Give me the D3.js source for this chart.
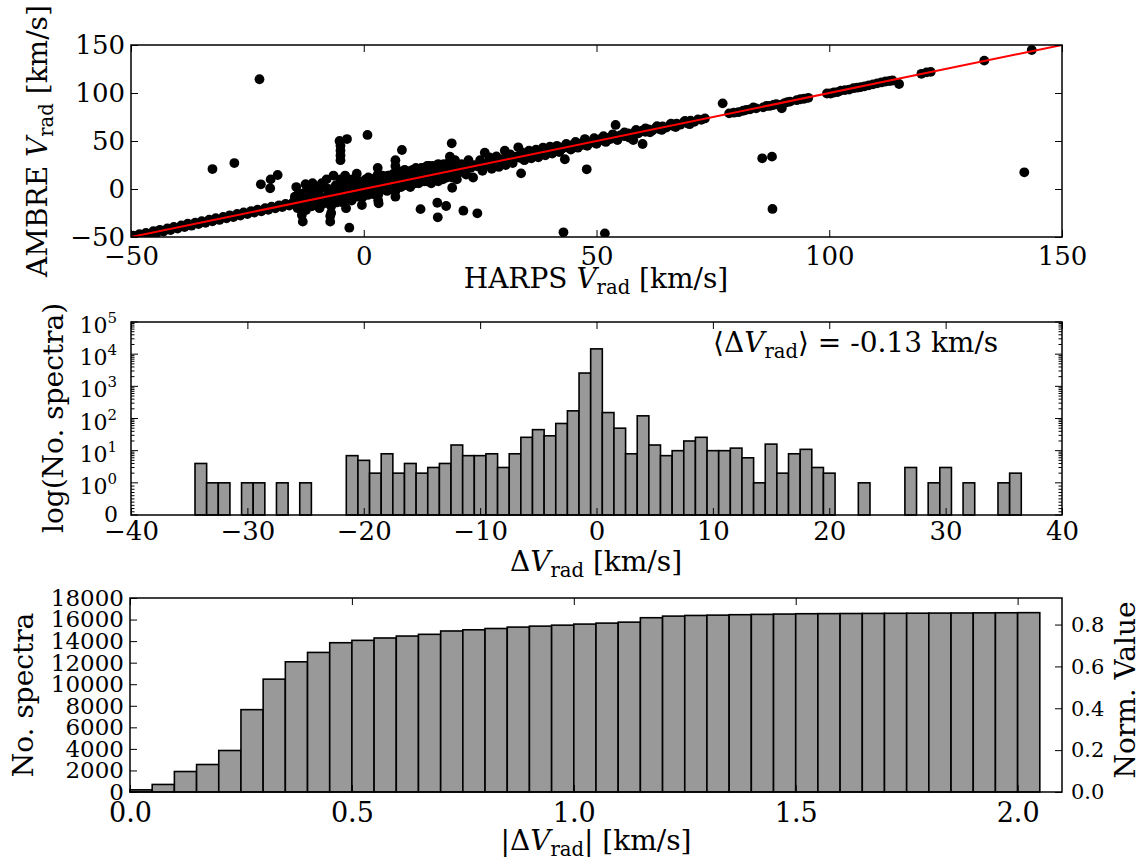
<!DOCTYPE html>
<html><head><meta charset="utf-8">
<script src="https://cdn.jsdelivr.net/npm/d3@7"></script>
<style>
body{margin:0;background:#fff}
svg{display:block}
text{font-family:"DejaVu Serif",serif;fill:#000}
</style>
</head><body>
<svg id="c" width="1148" height="862"></svg>
<script>
// ---------------- DATA ----------------
// Panel 1: HARPS vs AMBRE radial velocities (km/s), [HARPS, AMBRE]
const scatterBand = [
[-50,-50],[-49.5,-48.5],[-49,-50],[-48.2,-47],[-47.5,-48.8],[-46.8,-45.8],[-46,-47.2],[-45.2,-44],[-44.5,-45.8],[-43.8,-42.5],
[-43,-44.2],[-42.2,-41],[-41.5,-42.8],[-40.8,-39.6],[-40,-41.2],[-39.2,-38],[-38.5,-39.6],[-37.8,-36.2],[-37,-38.2],[-36.2,-35],
[-35.5,-36.6],[-34.8,-33.5],[-34,-35.2],[-33.2,-32],[-32.5,-33.6],[-31.8,-30.4],[-31,-32.2],[-30.2,-29],[-29.5,-30.6],[-28.8,-27.4],
[-28,-29.2],[-27.2,-26],[-26.5,-27.6],[-25.8,-24.4],[-25,-26.2],[-24.2,-23],[-23.5,-24.6],[-22.8,-21.5],[-22,-23.2],[-21.2,-20],
[-20.5,-21.6],[-19.8,-18.4],[-19,-20.2],[-18.2,-17],[-17.5,-18.8],[-16.8,-15.5],[-16,-17.2],[-15.2,-14],
[-14.5,-15.5],[-13.8,-12.5],[-13,-14],[-12.2,-11],[-11.5,-12.5],[-10.8,-9.5],[-10,-11],[-9.2,-8],[-8.5,-9.5],[-7.8,-6.5],
[-7,-8],[-6.2,-5],[-5.5,-6.5],[-4.8,-3.5],[-4,-5],[-3.2,-2],[-2.5,-3.5],[-1.8,-0.5],[-1,-2],[-0.3,1],
[0.5,-0.5],[1.2,2.5],[2,1],[2.8,4],[3.5,2.5],[4.2,5.5],[5,4],[5.8,7],[6.5,5.5],[7.2,8.5],
[8,7],[8.8,10],[9.5,8.5],[10.2,11.5],[11,10],[11.8,13],[12.5,11.5],[13.2,14.5],[14,13],[14.8,16],
[15.5,14.5],[16.2,17.5],[17,16],[17.8,19],[18.5,17.5],[19.2,20.5],[20,19],
[20.8,21.8],[21.5,20.5],[22.2,23.2],[23,22],[23.8,24.8],[24.5,23.5],[25.2,26.2],[26,25],[26.8,27.8],[27.5,26.5],
[28.2,29.2],[29,28],[29.8,30.8],[30.5,29.5],[31.2,32.2],[32,31],[32.8,33.8],[33.5,32.5],[34.2,35.2],[35,34],
[35.8,36.8],[36.5,35.5],[37.2,38.2],[38,37],[38.8,39.8],[39.5,38.5],[40.2,41.2],[41,40],[41.8,42.8],[42.5,41.5],
[43.2,44.2],[44,43],[44.8,45.8],[45.5,44.5],[46.2,47.2],[47,46],[47.8,48.8],[48.5,47.5],[49.2,50.2],[50,49],
[50.8,51.8],[51.5,50.5],[52.2,53.2],[53,52],[53.8,54.8],[54.5,53.5],[55.2,56.2],[56,55],[56.8,57.8],[57.5,56.5],
[58.2,59.2],[59,58],[59.8,60.8],[60.5,59.5],[61.2,62.2],[62,61],[62.8,63.8],[63.5,62.5],[64.2,65.2],[65,64],
[65.8,66.8],[66.5,65.5],[67.2,68.2],[68,67],[68.8,69.8],[69.5,68.5],[70.2,71.2],[71,70],[71.8,72.5],[72.5,72],[73.3,73.5],
[78.5,78.8],[79.5,79.5],[80.5,80],[81.5,81.5],[82.2,82.5],[83,83],[83.7,85],[84.3,84],[85.8,85],[86.5,86.5],
[87.2,86.5],[88,87.5],[88.6,88.5],[89.2,87.5],[89.8,84],[90.4,89.5],[91,90.5],[91.6,91],[93,92.5],[93.8,93.5],
[94.6,94],[95.5,95],[99.5,99.5],[100.3,99.5],[101,100.5],[101.8,101],[102.5,102.5],[103.4,103],[104.3,103.5],[105.2,105],
[106,105.5],[106.8,106.2],[107.6,107],[108.5,108],[109.4,109],[110.3,110],[111.2,111],[112.1,112],[113,112.5],[113.6,113],
[115,109.4],[119.8,120],[120.9,121.5],[121.8,122],[133.3,133.7],[143.5,144.8]
];
const scatterSpread = [
[-14.5,2],[-14,-5],[-13.5,-20],[-13.3,-27],[-13.1,-34],[-12.5,5],[-12,-18],[-11.5,-4],[-11,6],[-10.5,-14],
[-10,2],[-9.5,-20],[-9,6],[-8.5,-15],[-8,10],[-7.5,-12],[-7.2,-34],[-7,-25],[-7,-18],[-6.5,14],
[-6.5,-14],[-6,4],[-5.5,-10],[-5,10],[-4.5,-14],[-4,14],[-3.8,-20],[-3.5,6],[-3.1,-40.3],[-3,-10],
[-2.5,10],[-2,-8],[-1.5,16],[-1,-6],[-0.4,-16.7],[0,8],[0.5,-6],[1,12],[1.5,-4],[2,8],
[2.5,-6],[3,22],[3,15],[3.1,-6],[3.1,-12],[3.2,-15],[4,12],[5,-2],[5.5,14],[6,2],
[6.8,30],[6.8,24],[6.8,16],[6.8,-2],[6.8,-8],[7.5,14],[8,2],[8.5,16],[9,4],[9.5,18],
[10,2],[10.5,20],[11,6],[12,20],[12.2,-21],[12.5,8],[13,22],[13.5,8],[14,24],[14.5,6],
[15,22],[15.8,-14.3],[15.9,-29.5],[16,8],[16.5,24],[17,10],[17.7,-17.7],[18,26],[18.5,33.7],[19,1.3],
[19,12],[19.5,26],[20,10],
[-14.8,-8],[-14.2,-20],[-13.6,-6],[-12.8,-4],[-12.4,-22],[-11.8,-2],[-11.2,-18],[-10.6,-2],[-10.2,-16],[-9.6,0],
[-9,-15],[-8.6,2],[-8,-14],[-7.6,0],[-7.2,-28],[-6.8,-12],[-6.3,0],[-5.8,-14],[-5.2,2],[-4.8,-10],
[-4.2,4],[-3.6,-10],[-3,4],[-2.6,-12],[-2,6],[-1.4,-8],[-0.8,8],[-0.2,-8],[0.4,10],[1,-6],
[1.6,10],[2.2,-4],[2.6,12],[3.4,-2],[4,14],[4.6,0],[5.2,14],[5.8,0],[6.4,16],[7,2],
[7.6,18],[8.2,4],[8.8,20],[9.4,6],[10,18],[10.6,6],[11.2,22],[11.8,6],[12.4,22],[13,8],
[13.6,24],[14.2,10],[14.8,24],[15.4,10],[16,26],[16.6,12],[17.2,26],[17.8,12],[18.4,28],[19,16],
[19.6,30],[20.2,16],
[21,26],[21.4,-22.6],[22,15],[22.5,30],[23.5,12],[24.4,-25.3],[25,30],[25.5,19],[26,37.8],[27,33],
[27.5,21],[28.5,34],[29,23],[30.3,39.9],[30.5,25],[31.5,36],[32,27],[33.2,43.4],[33.8,16.3],[34,38],
[34.5,30],[35.5,40],[36,32],[37,41],[37.5,33],[38.5,43],[39,35],[40,44],[40.5,37],[41.5,45],
[42,38.5],[43.2,31],[43.5,47],[44.5,41],[45.5,49],[46,43],[47.5,52],[47.9,20.5],[48,45],[49.5,53],
[50,47],[51.5,55],[52,49],[53.5,57],[54.1,66.7],[54.5,51],[56,59],[57,53.5],[57.9,51],[58.5,61.5],
[59.9,46.9],[60.5,63],[61.5,59],[63,65.5],[64,61.5],[66,68],[67,64.5],[69,71],[70,67.5]
];
const scatterOutliers = [
[-22.4,114.3],[-32.5,20.8],[-27.8,27],[-22.1,4.9],[-20.1,0.7],[-20,10],[-18.5,14.6],
[-5.2,50],[-5,45],[-5,40],[-5,35],[-5,30],[-3.6,52],[0.8,56.3],[8.2,40.6],[18.9,47.6],
[42.9,-45.1],[51.8,-46.2],[77.1,89.2],[85.6,32],[87.7,33.7],[87.8,-20.8],[141.9,17.4]
];
const oneToOne = [[-50,-50],[150,150]];
const p1Ticks = [-50,0,50,100,150];

// Panel 2: histogram of Delta V_rad (bins 1 km/s wide, centred on integers)
const deltaBinCenters = [-34,-33,-32,-30,-29,-27,-25,
 -21,-20,-19,-18,-17,-16,-15,-14,-13,-12,-11,-10,-9,-8,-7,-6,-5,-4,-3,-2,-1,0,
 1,2,3,4,5,6,7,8,9,10,11,12,13,14,15,16,17,18,19,20,
 23,27,29,30,32,35,36];
const deltaCounts = [4,1,1,1,1,1,1,
 7,5,2,8,2,4,2,3,4,15,7,7,8,3,8,26,45,29,70,173,2590,14600,
 153,50,8,121,15,7,10,20,26,10,10,12,6,1,16,2,8,11,3,2,
 1,3,1,3,1,1,2];
const p2XTicks = [-40,-30,-20,-10,0,10,20,30,40];
const p2Decades = [0,1,2,3,4,5];

// Panel 3: cumulative histogram of |Delta V_rad| (bins 0.05 km/s wide)
const cumBinLeft = [0,0.05,0.1,0.15,0.2,0.25,0.3,0.35,0.4,0.45,0.5,0.55,0.6,0.65,0.7,0.75,0.8,0.85,0.9,0.95,
 1.0,1.05,1.1,1.15,1.2,1.25,1.3,1.35,1.4,1.45,1.5,1.55,1.6,1.65,1.7,1.75,1.8,1.85,1.9,1.95,2.0];
const cumCounts = [200,700,1900,2550,3850,7640,10470,12080,12950,13850,14070,14290,14470,14630,14940,15050,15170,15300,15390,15480,
 15580,15670,15760,16170,16320,16380,16410,16450,16480,16510,16540,16550,16560,16570,16580,16590,16600,16610,16620,16630,16640];
const cumBinWidth = 0.05;
const normTotal = 19420;
const p3XTicks = [0,0.5,1.0,1.5,2.0];
const p3YTicks = [0,2000,4000,6000,8000,10000,12000,14000,16000,18000];
const p3RTicks = [0,0.2,0.4,0.6,0.8];

// ---------------- DRAWING ----------------
const svg = d3.select("#c");
const SERIF = "'DejaVu Serif', serif", SANS = "'DejaVu Sans', sans-serif";
const BAR_FILL = "#999999";

function styleAxis(g, fs, fam) {
  g.select(".domain").remove();
  g.attr("font-size", fs).attr("font-family", fam);
  g.selectAll(".tick line").attr("stroke", "#000").attr("stroke-width", 1);
  g.selectAll(".tick text").attr("fill", "#000");
  return g;
}
// parts: [text, kind] kind: "", "i" italic, "sub"
function mathText(x, y, parts, fs, opts = {}) {
  const t = svg.append("text").attr("font-size", fs).attr("text-anchor", opts.anchor || "middle");
  if (opts.rotate) t.attr("transform", `translate(${x},${y}) rotate(${opts.rotate})`);
  else t.attr("x", x).attr("y", y);
  let shift = 0;
  parts.forEach(([s, k]) => {
    const sp = t.append("tspan").text(s);
    if (k === "sub") {
      sp.attr("font-size", fs * 0.7).attr("dy", fs * 0.22 - shift);
      shift = fs * 0.22;
    } else {
      if (shift) { sp.attr("dy", -shift); shift = 0; }
      if (k === "i") sp.attr("font-style", "italic");
    }
  });
  return t;
}
function frame(P) {
  svg.append("rect").attr("x", P.l).attr("y", P.t).attr("width", P.r - P.l).attr("height", P.b - P.t)
    .attr("fill", "none").attr("stroke", "#000").attr("stroke-width", 1.5);
}

// ===== Panel 1 =====
const P1 = {l:131, r:1062, t:45, b:237};
const x1 = d3.scaleLinear().domain([-50,150]).range([P1.l, P1.r]);
const y1 = d3.scaleLinear().domain([-50,150]).range([P1.b, P1.t]);
svg.append("clipPath").attr("id","clip1").append("rect")
  .attr("x",P1.l).attr("y",P1.t).attr("width",P1.r-P1.l).attr("height",P1.b-P1.t);
const g1 = svg.append("g").attr("clip-path","url(#clip1)");
g1.selectAll("circle").data(scatterBand.concat(scatterSpread, scatterOutliers)).join("circle")
  .attr("cx", d => x1(d[0])).attr("cy", d => y1(d[1])).attr("r", 4.9).attr("fill", "#000");
g1.append("path").datum(oneToOne)
  .attr("d", d3.line().x(d => x1(d[0])).y(d => y1(d[1])))
  .attr("stroke", "#ff0000").attr("stroke-width", 2).attr("fill", "none");
styleAxis(svg.append("g").attr("transform",`translate(0,${P1.b})`)
  .call(d3.axisBottom(x1).tickValues(p1Ticks).tickSize(-7).tickPadding(10).tickFormat(d3.format("d"))), 26, SERIF);
styleAxis(svg.append("g").attr("transform",`translate(0,${P1.t})`)
  .call(d3.axisTop(x1).tickValues(p1Ticks).tickSize(-7).tickFormat("")), 26, SERIF);
styleAxis(svg.append("g").attr("transform",`translate(${P1.l},0)`)
  .call(d3.axisLeft(y1).tickValues(p1Ticks).tickSize(-7).tickPadding(6).tickFormat(d3.format("d"))), 26, SERIF);
styleAxis(svg.append("g").attr("transform",`translate(${P1.r},0)`)
  .call(d3.axisRight(y1).tickValues(p1Ticks).tickSize(-7).tickFormat("")), 26, SERIF);
frame(P1);
mathText(596, 288, [["HARPS ",""],["V","i"],["rad","sub"],[" [km/s]",""]], 28);
mathText(47, 141, [["AMBRE ",""],["V","i"],["rad","sub"],[" [km/s]",""]], 28, {rotate:-90});

// ===== Panel 2 =====
const P2 = {l:131, r:1062, t:322, b:515};
const x2 = d3.scaleLinear().domain([-40,40]).range([P2.l, P2.r]);
const yOne = P2.b - (P2.b - P2.t) / 6;
const yLog = d3.scaleLog().domain([1,1e5]).range([yOne, P2.t]);
const yLin = d3.scaleLinear().domain([0,1]).range([P2.b, yOne]);
const yMid = v => v >= 1 ? yLog(v) : yLin(v);
const hist = deltaBinCenters.map((c,i) => ({c, n: deltaCounts[i]}));
svg.append("g").selectAll("rect").data(hist).join("rect")
  .attr("x", d => x2(d.c - 0.5)).attr("width", d => x2(d.c + 0.5) - x2(d.c - 0.5))
  .attr("y", d => yMid(d.n)).attr("height", d => yMid(0) - yMid(d.n))
  .attr("fill", BAR_FILL).attr("stroke", "#000").attr("stroke-width", 1.6);
styleAxis(svg.append("g").attr("transform",`translate(0,${P2.b})`)
  .call(d3.axisBottom(x2).tickValues(p2XTicks).tickSize(-7).tickPadding(7).tickFormat(d3.format("d"))), 26, SERIF);
styleAxis(svg.append("g").attr("transform",`translate(0,${P2.t})`)
  .call(d3.axisTop(x2).tickValues(p2XTicks).tickSize(-7).tickFormat("")), 26, SERIF);
// y ticks (symmetric-log style: linear 0..1, log above)
const majorVals = [0].concat(p2Decades.map(k => Math.pow(10,k)));
const minorVals = yLog.ticks().filter(v => Math.abs(Math.log10(v) - Math.round(Math.log10(v))) > 1e-6)
  .concat(yLin.ticks(10).filter(v => v > 0 && v < 1));
const tg = svg.append("g").attr("stroke","#000").attr("stroke-width",1);
majorVals.forEach(v => {
  tg.append("line").attr("x1",P2.l).attr("x2",P2.l+7).attr("y1",yMid(v)).attr("y2",yMid(v));
  tg.append("line").attr("x1",P2.r).attr("x2",P2.r-7).attr("y1",yMid(v)).attr("y2",yMid(v));
});
minorVals.forEach(v => {
  tg.append("line").attr("x1",P2.l).attr("x2",P2.l+3.5).attr("y1",yMid(v)).attr("y2",yMid(v));
  tg.append("line").attr("x1",P2.r).attr("x2",P2.r-3.5).attr("y1",yMid(v)).attr("y2",yMid(v));
});
p2Decades.forEach(k => {
  const t = svg.append("text").attr("x", 117).attr("y", yLog(Math.pow(10,k)) + 11)
    .attr("text-anchor","end").attr("font-size",22).text("10");
  t.append("tspan").attr("dy",-10).attr("font-size",15).text(String(k));
});
svg.append("text").attr("x",118).attr("y",yLin(0)+7).attr("text-anchor","end").attr("font-size",22).text("0");
frame(P2);
mathText(596, 571, [["\u0394",""],["V","i"],["rad","sub"],[" [km/s]",""]], 28);
mathText(63, 418, [["log(No. spectra)",""]], 28, {rotate:-90});
mathText(713, 352, [["\u27E8\u0394",""],["V","i"],["rad","sub"],["\u27E9 = -0.13 km/s",""]], 28, {anchor:"start"});

// ===== Panel 3 =====
const P3 = {l:130, r:1062, t:598, b:792};
const x3 = d3.scaleLinear().domain([0,2.1]).range([P3.l, P3.r]);
const y3 = d3.scaleLinear().domain([0,18000]).range([P3.b, P3.t]);
const yR = d3.scaleLinear().domain([0,18000/normTotal]).range([P3.b, P3.t]);
const cum = cumBinLeft.map((x,i) => ({x, n: cumCounts[i]}));
svg.append("g").selectAll("rect").data(cum).join("rect")
  .attr("x", d => x3(d.x)).attr("width", d => x3(d.x + cumBinWidth) - x3(d.x))
  .attr("y", d => y3(d.n)).attr("height", d => y3(0) - y3(d.n))
  .attr("fill", BAR_FILL).attr("stroke", "#000").attr("stroke-width", 1.6);
styleAxis(svg.append("g").attr("transform",`translate(0,${P3.b})`)
  .call(d3.axisBottom(x3).tickValues(p3XTicks).tickSize(-7).tickPadding(11).tickFormat(d3.format(".1f"))), 27, SERIF);
styleAxis(svg.append("g").attr("transform",`translate(0,${P3.t})`)
  .call(d3.axisTop(x3).tickValues(p3XTicks).tickSize(-7).tickFormat("")), 27, SERIF);
styleAxis(svg.append("g").attr("transform",`translate(${P3.l},0)`)
  .call(d3.axisLeft(y3).tickValues(p3YTicks).tickSize(-7).tickPadding(6).tickFormat(d3.format("d"))), 23, SERIF);
styleAxis(svg.append("g").attr("transform",`translate(${P3.r},0)`)
  .call(d3.axisRight(yR).tickValues(p3RTicks).tickSize(-7).tickPadding(9).tickFormat(d3.format(".1f"))), 21, SANS);
frame(P3);
mathText(596, 850, [["|\u0394",""],["V","i"],["rad","sub"],["| [km/s]",""]], 28);
mathText(33, 695, [["No. spectra",""]], 28, {rotate:-90});
mathText(1135, 690, [["Norm. Value",""]], 28, {rotate:-90});
</script>
</body></html>
